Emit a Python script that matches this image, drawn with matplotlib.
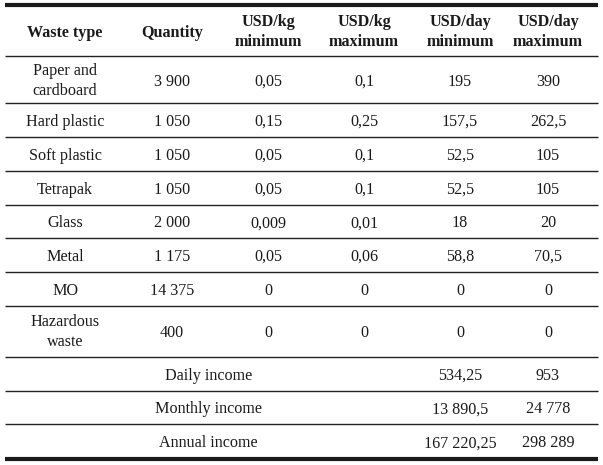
import matplotlib.pyplot as plt

plt.rcParams['font.family'] = ['Liberation Serif', 'DejaVu Serif']

headers = ['Waste type', 'Quantity', 'USD/kg\nminimum', 'USD/kg\nmaximum',
           'USD/day\nminimum', 'USD/day\nmaximum']
waste_types = ['Paper and\ncardboard', 'Hard plastic', 'Soft plastic', 'Tetrapak',
               'Glass', 'Metal', 'MO', 'Hazardous\nwaste']
quantity = ['3 900', '1 050', '1 050', '1 050', '2 000', '1 175', '14 375', '400']
usd_kg_min = ['0,05', '0,15', '0,05', '0,05', '0,009', '0,05', '0', '0']
usd_kg_max = ['0,1', '0,25', '0,1', '0,1', '0,01', '0,06', '0', '0']
usd_day_min = ['195', '157,5', '52,5', '52,5', '18', '58,8', '0', '0']
usd_day_max = ['390', '262,5', '105', '105', '20', '70,5', '0', '0']

income_labels = ['Daily income', 'Monthly income', 'Annual income']
income_min = ['534,25', '13 890,5', '167 220,25']
income_max = ['953', '24 778', '298 289']

# layout (pixel units)
col_x = [65, 172, 268, 364, 460, 548]
row_edges = [5.5, 56.5, 103, 137, 171, 204.5, 238, 272, 306, 356.5, 390.5, 424, 458.5]
left, right = 5, 598
fs = 11.6
txt = '#1a1a1a'

fig = plt.figure(figsize=(6.03, 4.65), dpi=100)
ax = fig.add_axes([0, 0, 1, 1])
ax.set_xlim(0, 603)
ax.set_ylim(465, 0)
ax.axis('off')

def mid(i):
    return (row_edges[i] + row_edges[i + 1]) / 2

def cell(x, y, s, **kw):
    if '\n' in s:
        ax.text(x, y + 1, s, ha='center', va='center', fontsize=fs, color=txt,
                linespacing=1.32, **kw)
    else:
        # single line: put baseline just under the row centre
        ax.text(x, y + 6, s, ha='center', va='baseline', fontsize=fs,
                color=txt, **kw)

# header
for x, h in zip(col_x, headers):
    cell(x, mid(0), h, fontweight='bold')

# body rows
cols = [waste_types, quantity, usd_kg_min, usd_kg_max, usd_day_min, usd_day_max]
for r in range(len(waste_types)):
    y = mid(r + 1)
    for x, col in zip(col_x, cols):
        cell(x, y, col[r])

# income rows
merged_x = (left + 412) / 2
for i, lab in enumerate(income_labels):
    y = mid(len(waste_types) + 1 + i)
    cell(merged_x, y, lab)
    cell(col_x[4], y, income_min[i])
    cell(col_x[5], y, income_max[i])

# rules
ax.hlines(row_edges[1:-1], left, right, color='#222222', lw=1.0)
ax.hlines([row_edges[0], row_edges[-1]], left, right, color='#1a1a1a', lw=3.0)

fig.savefig('out.png', dpi=100)
